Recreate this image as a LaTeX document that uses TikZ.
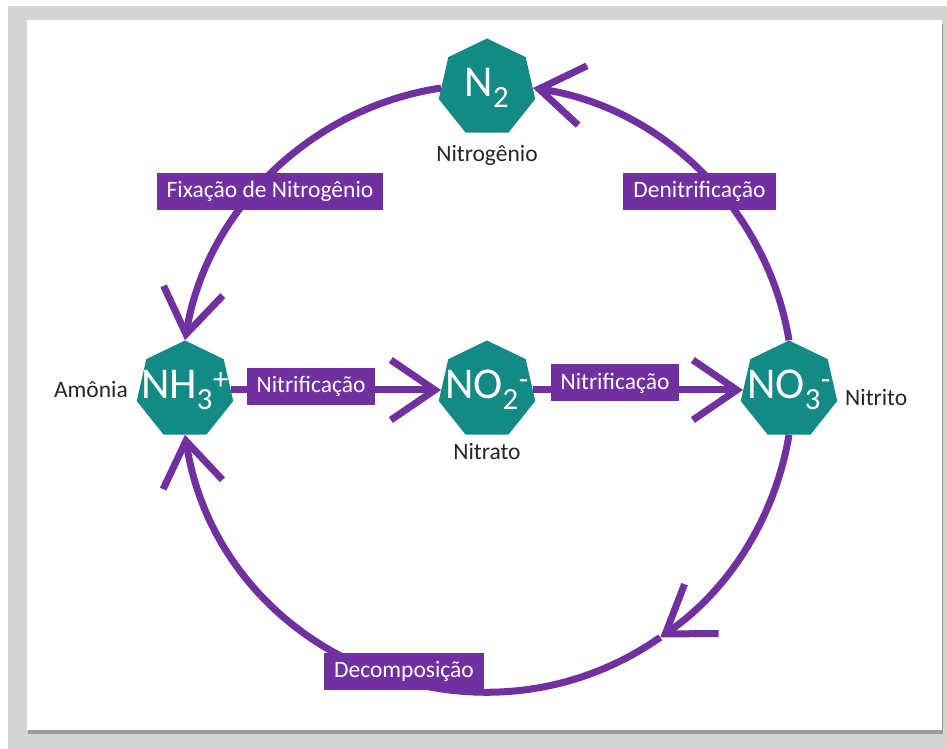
\documentclass[tikz,border=0pt]{standalone}
\usepackage{fontspec}
\setmainfont{Carlito}
\usetikzlibrary{arrows.meta,shapes.geometric,shadows}

\definecolor{cyclepurple}{HTML}{7030A0}
\definecolor{cycleteal}{HTML}{138A84}
\definecolor{framegray}{HTML}{D3D3D3}

\tikzset{
  molecule/.style={regular polygon, regular polygon sides=7, fill=cycleteal,
    minimum size=99pt, inner sep=0pt},
  chem/.style={text=white, inner sep=0pt, font=\fontsize{44}{44}\selectfont},
  procbox/.style={fill=cyclepurple, text=white, minimum height=37pt,
    inner xsep=10pt, inner ysep=0pt, font=\fontsize{23.5}{24}\selectfont},
  caption/.style={text=black!85, inner sep=0pt, font=\fontsize{23.5}{24}\selectfont},
  flow/.style={draw=cyclepurple, line width=7pt, -{Straight Barb[length=44pt,width=60pt]}},
}

\begin{document}
\begin{tikzpicture}[x=1pt,y=1pt]
        \useasboundingbox (-487,-359) rectangle (460,390);
        \fill[framegray] (-479,-359) rectangle (460,384);
        \fill[white, drop shadow={shadow xshift=1pt, shadow yshift=-4pt, fill=black!60, opacity=.5}]
          (-460,-340) rectangle (455,370);
        % molecules on the cycle
        \node[molecule, label={[chem]center:N\textsubscript{2}}] (n2) at (0,302) {};
        \node[molecule, label={[chem]center:NH\textsubscript{3}\textsuperscript{+}}] (nh3) at (-302,0) {};
        \node[molecule, label={[chem]center:NO\textsubscript{2}\textsuperscript{-}}] (no2) at (0,0) {};
        \node[molecule, label={[chem]center:NO\textsubscript{3}\textsuperscript{-}}] (no3) at (302,0) {};
        \coordinate (mid) at (-55:302);
        % the cycle
        \draw[flow] (no3.north) to[bend right=36, looseness=.94] (n2.east);
        \draw[flow] (n2.west) to[bend right=36, looseness=.94] (nh3.north);
        \draw[flow] (no3.south) to[bend left=23, looseness=.89] (mid);
        \draw[flow] (mid) to[bend left=58, looseness=1.11] (nh3.south);
        \draw[flow] (nh3) -- (no2);
        \draw[flow] (no2) -- (no3);
        % processes
        \node[procbox] (fix) at (-217,198.5) {Fixação de Nitrogênio};
        \node[procbox] (denit) at (212.5,198.5) {Denitrificação};
        \node[procbox] (nitr1) at (-176,3.5) {Nitrificação};
        \node[procbox] (nitr2) at (128,7) {Nitrificação};
        \node[procbox] (decomp) at (-83,-281.5) {Decomposição};
        % names
        \node[caption] (n2name) at (0,235) {Nitrogênio};
        \node[caption] (no2name) at (0,-62) {Nitrato};
        \node[caption, anchor=east] (nh3name) at (-359,0) {Amônia};
        \node[caption, anchor=west] (no3name) at (358,-8) {Nitrito};
\end{tikzpicture}
\end{document}
